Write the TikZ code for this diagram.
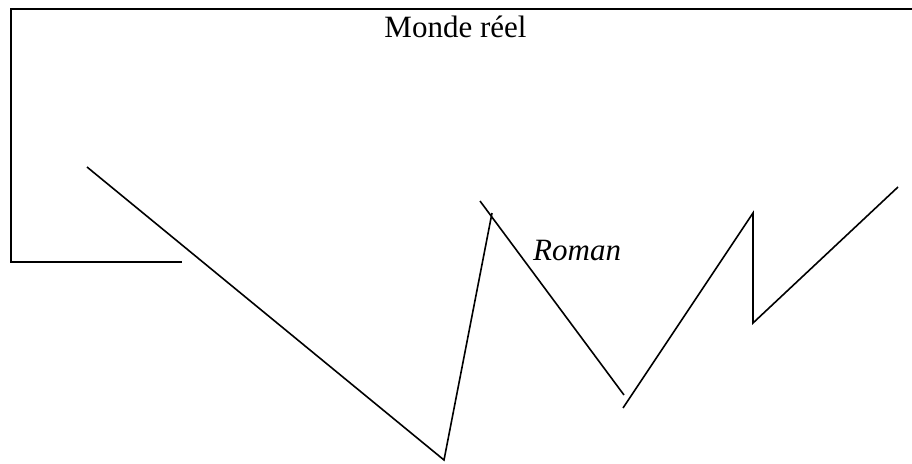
\documentclass[tikz,border=0pt]{standalone}
\usepackage{fontspec}
\setmainfont{Liberation Serif}
\begin{document}
\begin{tikzpicture}[x=1pt,y=-1pt,
  ln/.style={line width=1.6pt,line cap=butt,line join=miter},
  lbl/.style={font=\fontsize{31}{36}\selectfont,inner sep=0pt}]
\useasboundingbox (0,0) rectangle (912,463);
% frame
\coordinate (f1) at (912,9);
\coordinate (f2) at (11,9);
\coordinate (f3) at (11,262);
\coordinate (f4) at (182,262);
\draw[ln] (f1) -- (f2) -- (f3) -- (f4);
% zigzag
\coordinate (a) at (87,167);
\coordinate (b) at (444,460);
\coordinate (c) at (492,213);
\draw[ln] (a) -- (b) -- (c);
\coordinate (d) at (480,201);
\coordinate (e) at (624,395);
\draw[ln] (d) -- (e);
\coordinate (g) at (623,408);
\coordinate (h) at (753,213);
\coordinate (i) at (753,323);
\coordinate (j) at (898,187);
\draw[ln] (g) -- (h) -- (i) -- (j);
% labels
\node[lbl,anchor=base] (t1) at (455.5,37) {Monde réel};
\node[lbl,anchor=base west] (t2) at (533,260) {\itshape Roman};
\end{tikzpicture}
\end{document}
